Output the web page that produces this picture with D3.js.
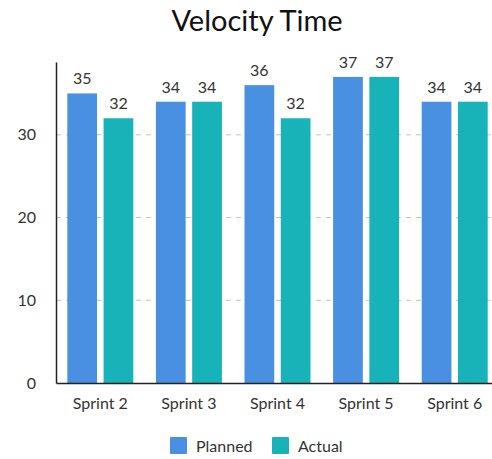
<!DOCTYPE html>
<html><head><meta charset="utf-8">
<script src="https://cdn.jsdelivr.net/npm/d3@7"></script>
<style>body{margin:0;background:#fff;font-family:Lato,sans-serif;}</style>
</head><body>
<svg id="c" width="492" height="459"></svg>
<script>
const categories = ["Sprint 2","Sprint 3","Sprint 4","Sprint 5","Sprint 6"];
const seriesNames = ["Planned","Actual"];
const planned = [35,34,36,37,34];
const actual = [32,34,32,37,34];
const yTicks = [0,10,20,30];
const colors = ["#4a90e2","#17b3b8"];

const svg = d3.select("#c");
const m = {left:56, top:62, bottom:383, right:499};
const x0 = d3.scaleBand().domain(categories).range([m.left, m.right]).padding(0);
const x1 = d3.scaleBand().domain(seriesNames).range([-33, 33]).paddingInner(0.18);
const y = d3.scaleLinear().domain([0, 38.8]).range([m.bottom, m.top]);

svg.append("text").attr("x",257).attr("y",31).attr("text-anchor","middle")
  .attr("font-size",29).attr("fill","#111").text("Velocity Time");

// grid
svg.append("g").selectAll("line").data(yTicks.filter(d=>d>0)).join("line")
  .attr("x1",m.left).attr("x2",492).attr("y1",d=>y(d)).attr("y2",d=>y(d))
  .attr("stroke","#c4c4c4").attr("stroke-dasharray","5,5");

// y axis
const ya = svg.append("g").attr("transform",`translate(${m.left},0)`)
  .call(d3.axisLeft(y).tickValues(yTicks).tickSize(0).tickPadding(20));
ya.select(".domain").attr("stroke","#222").attr("stroke-width",1.5);
ya.selectAll("text").attr("font-family","Lato").attr("font-size",16).attr("fill","#333");

const data = categories.map((c,i)=>({c, vals:[planned[i], actual[i]]}));
const g = svg.append("g").selectAll("g").data(data).join("g")
  .attr("transform",d=>`translate(${x0(d.c)+x0.bandwidth()/2},0)`);
g.selectAll("rect").data(d=>d.vals.map((v,k)=>({k,v}))).join("rect")
  .attr("x",d=>x1(seriesNames[d.k])).attr("width",x1.bandwidth())
  .attr("y",d=>y(d.v)).attr("height",d=>y(0)-y(d.v))
  .attr("fill",d=>colors[d.k]);
g.selectAll("text").data(d=>d.vals.map((v,k)=>({k,v}))).join("text")
  .attr("x",d=>x1(seriesNames[d.k])+x1.bandwidth()/2).attr("y",d=>y(d.v)-9)
  .attr("text-anchor","middle").attr("font-size",16).attr("fill","#333").text(d=>d.v);

// x axis
const xa = svg.append("g").attr("transform",`translate(0,${m.bottom})`)
  .call(d3.axisBottom(x0).tickSize(0).tickPadding(15));
xa.select(".domain").attr("stroke","#222").attr("stroke-width",1.5);
xa.selectAll("text").attr("font-family","Lato").attr("font-size",16).attr("fill","#333");

// legend
const legX = [170, 272];
const lg = svg.append("g").selectAll("g").data(seriesNames).join("g")
  .attr("transform",(d,i)=>`translate(${legX[i]},437)`);
lg.append("rect").attr("width",17).attr("height",17).attr("rx",1).attr("fill",(d,i)=>colors[i]);
lg.append("text").attr("x",26).attr("y",15).attr("font-size",16).attr("fill","#333").text(d=>d);
</script>
</body></html>
